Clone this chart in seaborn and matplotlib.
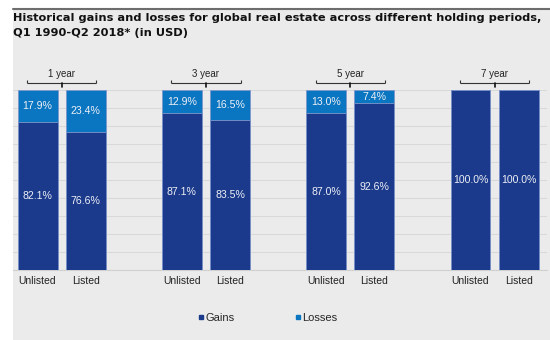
import matplotlib
matplotlib.use("Agg")
import matplotlib.pyplot as plt
import seaborn as sns
import pandas as pd
from matplotlib.lines import Line2D
from matplotlib.patches import Rectangle

periods = ["1 year", "3 year", "5 year", "7 year"]
types = ["Unlisted", "Listed"]
gains = [82.1, 76.6, 87.1, 83.5, 87.0, 92.6, 100.0, 100.0]
losses = [17.9, 23.4, 12.9, 16.5, 13.0, 7.4, 0.0, 0.0]

GAIN_C = "#1B3A8B"
LOSS_C = "#0A75C1"
BG = "#EBEBEB"
EDGE = "#7f97cc"

sns.set_theme(style="white")
plt.rcParams["font.family"] = ["Liberation Sans", "DejaVu Sans"]

pos = []
for i in range(len(periods)):
    pos += [3 * i, 3 * i + 1]
df = pd.DataFrame({"pos": pos, "type": types * len(periods),
                   "gains": gains, "losses": losses})
df["total"] = df["gains"] + df["losses"]

W, H = 550, 340
fig = plt.figure(figsize=(W / 100, H / 100), dpi=100)
fig.patch.set_facecolor("white")
fig.patches.append(Rectangle((13 / W, 0), 1 - 13 / W, 1 - 9 / H, transform=fig.transFigure,
                             facecolor=BG, edgecolor="none", zorder=-10))
fig.add_artist(Line2D([13 / W, 1], [1 - 8.5 / H] * 2, transform=fig.transFigure,
                      color="#6d6d6d", lw=1.5))

ax = fig.add_axes([13 / W, 1 - 270 / H, 534 / W, 180 / H])
ax.set_facecolor(BG)

sns.barplot(data=df, x="pos", y="total", native_scale=True, width=0.83,
            color=LOSS_C, saturation=1, edgecolor=EDGE, linewidth=0.6,
            errorbar=None, ax=ax, zorder=2)
sns.barplot(data=df, x="pos", y="gains", native_scale=True, width=0.83,
            color=GAIN_C, saturation=1, edgecolor=EDGE, linewidth=0.6,
            errorbar=None, ax=ax, zorder=3)

ax.set_xlim(-0.51, 10.59)
ax.set_ylim(0, 100)
ax.set_yticks(range(0, 101, 10))
ax.set_yticklabels([])
ax.yaxis.grid(True, color="#D9D9D9", lw=0.8)
ax.set_axisbelow(True)
ax.tick_params(axis="y", length=0)
ax.set_xticks(df["pos"])
ax.set_xticklabels(df["type"], fontsize=7.5, color="#222222")
ax.tick_params(axis="x", length=0, pad=4)
ax.set_xlabel("")
ax.set_ylabel("")
for s in ["top", "left", "right"]:
    ax.spines[s].set_visible(False)
ax.spines["bottom"].set_color("#D0D0D0")
ax.spines["bottom"].set_linewidth(0.8)

# value labels
for p, g, l in zip(df["pos"], df["gains"], df["losses"]):
    ax.text(p, g / 2, f"{g:.1f}%", ha="center", va="center", color="#EEF0F6",
            fontsize=7.6, zorder=5)
    if l > 0:
        ax.text(p, g + l / 2, f"{l:.1f}%", ha="center", va="center",
                color="#EEF0F6", fontsize=7.6, zorder=5)

# group brackets
for i, name in enumerate(periods):
    c = 3 * i + 0.5
    hw = 0.72
    kw = dict(color="#333333", lw=0.8, clip_on=False, solid_capstyle="butt")
    ax.plot([c - hw, c + hw], [103.9, 103.9], **kw)
    ax.plot([c - hw, c - hw], [103.9, 105.4], **kw)
    ax.plot([c + hw, c + hw], [103.9, 105.4], **kw)
    ax.plot([c, c], [103.9, 101.8], color="#111111", lw=1.2, clip_on=False)
    ax.text(c, 106.0, name, ha="center", va="bottom", fontsize=7,
            color="#222222", clip_on=False)

# legend
handles = [Line2D([], [], marker="s", ls="none", color=GAIN_C, markersize=3.5),
           Line2D([], [], marker="s", ls="none", color=LOSS_C, markersize=3.5)]
fig.legend(handles, ["Gains", "Losses"], loc="center", ncol=2, frameon=False,
           bbox_to_anchor=(268 / W, 1 - 318 / H), bbox_transform=fig.transFigure,
           fontsize=8, handlelength=0.5, handletextpad=0.1, columnspacing=5.5)

fig.text(13 / W, 1 - 13 / H,
         "Historical gains and losses for global real estate across different holding periods,\nQ1 1990-Q2 2018* (in USD)",
         ha="left", va="top", fontsize=8.2, fontweight="bold",
         family=["DejaVu Sans"], color="#111111", linespacing=1.65)

fig.savefig("out.png", dpi=100, facecolor=fig.get_facecolor())
